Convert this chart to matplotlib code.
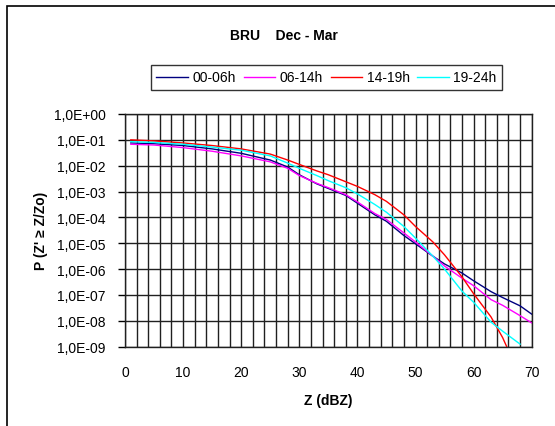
import numpy as np
import matplotlib
matplotlib.use("Agg")
import matplotlib.pyplot as plt
from matplotlib.ticker import FixedLocator, MultipleLocator, FuncFormatter
from matplotlib.patches import Rectangle

plt.rcParams['font.family'] = ['Liberation Sans', 'DejaVu Sans']

title = "BRU    Dec - Mar"
series_labels = ["00-06h", "06-14h", "14-19h", "19-24h"]
series_colors = ["#000080", "#FF00FF", "#FF0000", "#00FFFF"]

# Z (dBZ) sample positions and log10 of exceedance probability
z_0006 = [1, 5, 10, 15, 20, 25, 28, 30, 33, 35, 38, 40, 43, 45, 48, 50, 53, 55, 58, 60, 63, 65, 68, 70]
logp_0006 = [-1.12, -1.15, -1.22, -1.35, -1.52, -1.78, -2.05, -2.35, -2.70, -2.88, -3.15, -3.45,
             -3.90, -4.15, -4.70, -5.02, -5.50, -5.80, -6.15, -6.45, -6.87, -7.10, -7.42, -7.74]

z_0614 = [1, 5, 10, 15, 20, 25, 28, 30, 33, 35, 38, 40, 43, 45, 48, 50, 53, 55, 58, 60, 63, 65, 68, 70]
logp_0614 = [-1.17, -1.20, -1.30, -1.44, -1.62, -1.85, -2.10, -2.38, -2.68, -2.85, -3.12, -3.40,
             -3.85, -4.08, -4.60, -4.95, -5.50, -5.88, -6.35, -6.64, -7.18, -7.40, -7.80, -8.08]

z_1419 = [1, 5, 10, 15, 20, 25, 28, 30, 33, 35, 38, 40, 43, 45, 48, 50, 53, 55, 58, 60, 63, 65, 66]
logp_1419 = [-1.00, -1.04, -1.12, -1.22, -1.35, -1.55, -1.78, -1.95, -2.20, -2.35, -2.62, -2.80,
             -3.12, -3.38, -3.90, -4.35, -4.95, -5.45, -6.30, -6.95, -7.85, -8.65, -9.15]

z_1924 = [1, 5, 10, 15, 20, 25, 28, 30, 33, 35, 38, 40, 43, 45, 48, 50, 53, 55, 58, 60, 63, 65, 68]
logp_1924 = [-1.07, -1.10, -1.17, -1.28, -1.40, -1.62, -1.90, -2.10, -2.38, -2.58, -2.85, -3.09,
             -3.50, -3.80, -4.35, -4.80, -5.50, -6.00, -6.85, -7.28, -8.05, -8.40, -8.90]

y_tick_exponents = [0, -1, -2, -3, -4, -5, -6, -7, -8, -9]
x_tick_values = [0, 10, 20, 30, 40, 50, 60, 70]

fig = plt.figure(figsize=(5.55, 4.27), dpi=100)

# outer chart frame
fig.patches.append(Rectangle((7 / 555, -0.1), 1.2, 1.1 - 7 / 427, transform=fig.transFigure,
                             fill=False, edgecolor="black", linewidth=1.2))

ax = fig.add_axes([125 / 555, 1 - 347.7 / 427, (531.7 - 125) / 555, (347.7 - 115) / 427])

all_z = [z_0006, z_0614, z_1419, z_1924]
all_lp = [logp_0006, logp_0614, logp_1419, logp_1924]
for z, lp, lab, col in zip(all_z, all_lp, series_labels, series_colors):
    ax.plot(z, 10.0 ** np.array(lp), color=col, linewidth=1.0, label=lab)

ax.set_yscale("log")
ax.set_ylim(1e-9, 1e0)
ax.set_xlim(0, 70)

ax.yaxis.set_major_locator(FixedLocator([10.0 ** e for e in y_tick_exponents]))
ax.yaxis.set_minor_locator(FixedLocator([]))
ax.yaxis.set_major_formatter(FuncFormatter(
    lambda v, p: "1,0E%s%02d" % ("+" if round(np.log10(v)) >= 0 else "-", abs(int(round(np.log10(v)))))))
ax.xaxis.set_major_locator(FixedLocator(x_tick_values))
ax.xaxis.set_minor_locator(MultipleLocator(2))

ax.grid(True, which="major", axis="y", color="#202020", linewidth=1.0)
ax.grid(True, which="both", axis="x", color="#202020", linewidth=1.0)
ax.set_axisbelow(True)

ax.tick_params(axis="y", which="major", direction="out", length=5, width=1, labelsize=10, pad=9)
ax.tick_params(axis="x", which="both", length=0, labelsize=10, pad=13)
for s in ax.spines.values():
    s.set_color("#202020")
    s.set_linewidth(1.0)

ax.set_xlabel("Z (dBZ)", fontsize=10, fontweight="bold", labelpad=10)
ax.set_ylabel("P (Z' \u2265 Z/Zo)", fontsize=10, fontweight="bold", labelpad=4)

fig.text(284 / 555, 1 - 36 / 427, title, fontsize=10, fontweight="bold", ha="center", va="center")

leg = fig.legend(loc="center", bbox_to_anchor=(326.5 / 555, 1 - 78.5 / 427), ncol=4,
                 fontsize=10, frameon=True, fancybox=False, handlelength=2.3,
                 columnspacing=0.55, handletextpad=0.3, borderpad=0.4)
leg.get_frame().set_edgecolor("black")
leg.get_frame().set_linewidth(1.0)

fig.savefig("out.png", dpi=100)
